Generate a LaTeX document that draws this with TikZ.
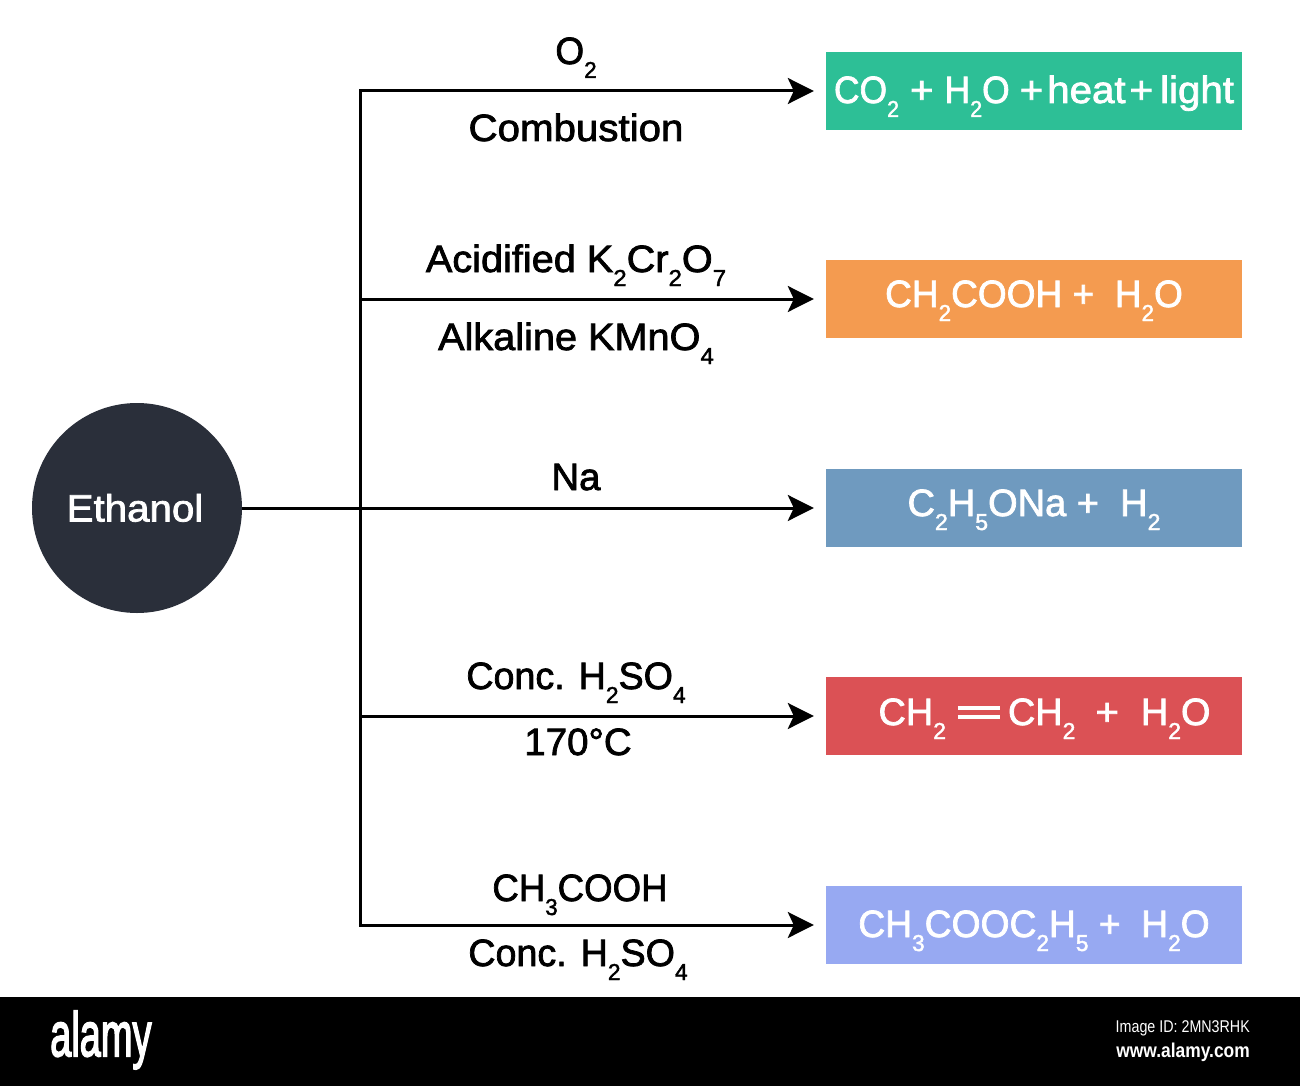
\documentclass[tikz,border=0pt]{standalone}
\usepackage{fontspec}
\usepackage{graphicx}
\setmainfont{Liberation Sans}[FakeBold=2,FakeStretch=1.06]
\newfontfamily\plainf{Liberation Sans}
\newfontfamily\logof{Liberation Sans}[FakeBold=3]
\usetikzlibrary{arrows.meta}
\newcommand{\sbs}[1]{\raisebox{-14pt}{\fontsize{23}{23}\selectfont #1}}
\newcommand{\hs}[2]{\scalebox{#1}[1]{#2}}
\newcommand{\dbond}{\kern12pt\raisebox{6.5pt}{\rlap{\rule{42pt}{4pt}}}\raisebox{15pt}{\rule{42pt}{4pt}}\kern8pt}
\tikzset{
  x=1pt,y=-1pt,
  lbl/.style={font=\fontsize{38}{38}\selectfont,text=black,inner sep=0pt,anchor=base},
  prod/.style={minimum width=416pt,minimum height=78.5pt,inner sep=0pt,draw=none,text=white,font=\fontsize{38}{38}\selectfont,text depth=6pt,text height=#1},
  conn/.style={line width=3pt,black},
  arr/.style={conn,-{Stealth[length=26pt,width=26pt,inset=6pt]},shorten >=12pt},
}
\definecolor{cgreen}{HTML}{2DBF96}
\definecolor{corange}{HTML}{F49B50}
\definecolor{cblue}{HTML}{6F9ABF}
\definecolor{cred}{HTML}{DB5155}
\definecolor{cperi}{HTML}{97A9F2}
\definecolor{cdark}{HTML}{2A2F3A}
\begin{document}
\begin{tikzpicture}
\useasboundingbox (0,0) rectangle (1300,1086);
\fill[white] (0,0) rectangle (1300,1086);
\fill[black] (0,997) rectangle (1300,1086);
\node[circle,fill=cdark,minimum size=210pt,inner sep=0pt,text=white,font=\fontsize{38}{38}\selectfont,text height=27pt,text depth=0pt] (eth) at (137,508) {Ethanol\hspace*{4pt}};
\node[prod=30pt,fill=cgreen] (p1) at (1034,91) {\hs{.88}{CO\sbs{2}}\kern11pt+\kern11pt\hs{.88}{H\sbs{2}O}\kern10pt+\kern4pt heat\kern4pt+\kern7pt light};
\node[prod=22pt,fill=corange] (p2) at (1034,299) {\hs{.92}{CH\sbs{2}COOH +\ \ H\sbs{2}O}};
\node[prod=22pt,fill=cblue] (p3) at (1034,508) {\hs{.944}{C\sbs{2}H\sbs{5}ONa +\ \ H\sbs{2}}};
\node[prod=24pt,fill=cred] (p4) at (1034,716) {\hspace*{21pt}\hs{.94}{CH\sbs{2}}\dbond\hs{.94}{CH\sbs{2}}\kern20pt+\kern22pt\hs{.94}{H\sbs{2}O}};
\node[prod=30pt,fill=cperi] (p5) at (1034,925) {\hs{.925}{CH\sbs{3}COOC\sbs{2}H\sbs{5} +\ \ H\sbs{2}O}};
\coordinate (j1) at (360,91);
\coordinate (j2) at (360,299);
\coordinate (j4) at (360,716);
\coordinate (j5) at (360,925);
\draw[conn,line cap=rect] (j1) -- (j5);
\draw[arr] (eth.east) -- (p3.west);
\draw[arr] (j1) -- (p1.west);
\draw[arr] (j2) -- (p2.west);
\draw[arr] (j4) -- (p4.west);
\draw[arr] (j5) -- (p5.west);
\node[lbl] (a1) at (576,64) {\hs{.92}{O\sbs{2}}};
\node[lbl] (b1) at (576,141) {Combustion};
\node[lbl] (a2) at (576,272) {\hs{.985}{Acidified K\sbs{2}Cr\sbs{2}O\sbs{7}}};
\node[lbl] (b2) at (576,350) {\hs{.985}{Alkaline KMnO\sbs{4}}};
\node[lbl] (a3) at (576,490) {\hs{.95}{Na}};
\node[lbl] (a4) at (576,689) {\hs{.935}{Conc. H\sbs{2}SO\sbs{4}}};
\node[lbl] (b4) at (578,755) {\hs{.955}{170°C}};
\node[lbl] (a5) at (580,901) {\hs{.91}{CH\sbs{3}COOH}};
\node[lbl] (b5) at (578,966) {\hs{.935}{Conc. H\sbs{2}SO\sbs{4}}};
\node[anchor=west,inner sep=0pt,text=white] (logo) at (50,1040) {\scalebox{0.76}[1.25]{\logof\fontsize{50}{50}\selectfont alamy}};
\node[anchor=east,inner sep=0pt,text=white] (iid) at (1250,1028) {\scalebox{0.84}[1]{\plainf\fontsize{17}{17}\selectfont Image ID: 2MN3RHK}};
\node[anchor=east,inner sep=0pt,text=white] (www) at (1250,1052) {\scalebox{0.87}[1]{\plainf\bfseries\fontsize{20}{20}\selectfont www.alamy.com}};
\end{tikzpicture}
\end{document}
